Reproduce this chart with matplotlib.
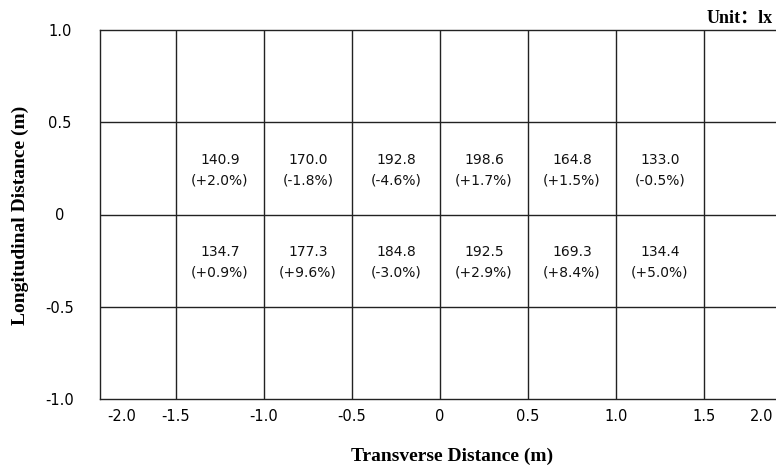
import matplotlib
matplotlib.use('Agg')
import matplotlib.pyplot as plt

plt.rcParams['axes.unicode_minus'] = False

# measured illuminance per grid cell and change vs. reference
col_centers = [-1.25, -0.75, -0.25, 0.25, 0.75, 1.25]
row_centers = [0.25, -0.25]
lux_top = [140.9, 170.0, 192.8, 198.6, 164.8, 133.0]
pct_top = [2.0, -1.8, -4.6, 1.7, 1.5, -0.5]
lux_bottom = [134.7, 177.3, 184.8, 192.5, 169.3, 134.4]
pct_bottom = [0.9, 9.6, -3.0, 2.9, 8.4, 5.0]

grid_x = [-1.5, -1.0, -0.5, 0.0, 0.5, 1.0, 1.5]
grid_y = [-0.5, 0.0, 0.5]
xtick_pos = [-1.81, -1.5, -1.0, -0.5, 0.0, 0.5, 1.0, 1.5, 1.83]
xtick_labels = ['-2.0', '-1.5', '-1.0', '-0.5', '0', '0.5', '1.0', '1.5', '2.0']
ytick_pos = [-1.0, -0.5, 0.0, 0.5, 1.0]
ytick_labels = ['-1.0', '-0.5', '0', '0.5', '1.0']

fig = plt.figure(figsize=(7.76, 4.67), dpi=100)
ax = fig.add_axes([100 / 776, 68 / 467, 676 / 776, 369 / 467])
ax.set_xlim(-1.932, 1.91)
ax.set_ylim(-1.0, 1.0)

for x in grid_x:
    ax.axvline(x, color='#222222', lw=1.0)
for y in grid_y:
    ax.axhline(y, color='#222222', lw=1.0)

for spine in ['left', 'top', 'bottom']:
    ax.spines[spine].set_color('#222222')
    ax.spines[spine].set_linewidth(1.0)
ax.spines['right'].set_visible(False)

for row, lux, pct in [(row_centers[0], lux_top, pct_top),
                      (row_centers[1], lux_bottom, pct_bottom)]:
    for x, v, p in zip(col_centers, lux, pct):
        ax.text(x, row - 0.01, f'{v:.1f}\n({p:+.1f}%)', ha='center', va='center',
                fontsize=10, linespacing=1.6, color='#111111')

ax.set_xticks(xtick_pos)
ax.set_xticklabels(xtick_labels, fontsize=10.5)
ax.set_yticks(ytick_pos)
ax.set_yticklabels(ytick_labels, fontsize=10.5, ha='center')
ax.tick_params(axis='x', length=0, pad=7)
ax.tick_params(axis='y', length=0, pad=29)

label_font = dict(family='Liberation Serif', fontweight='bold', fontsize=14)
fig.text(452 / 776, 1 - 456 / 467, 'Transverse Distance (m)', ha='center', va='center', **label_font)
fig.text(20 / 776, 1 - 215 / 467, 'Longitudinal Distance (m)', ha='center', va='center',
         rotation=90, **label_font)
fig.text(773 / 776, 1 - 18 / 467, 'Unit：lx', ha='right', va='center',
         family=['Liberation Serif', 'Noto Sans CJK SC'], fontweight='bold', fontsize=13)

fig.savefig('out.png', dpi=100)
